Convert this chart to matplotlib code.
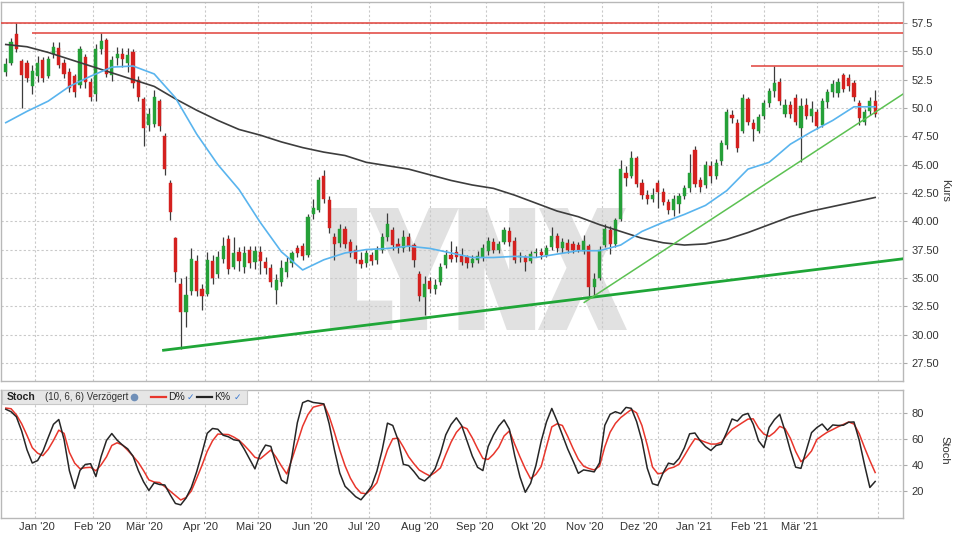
import numpy as np
import pandas as pd
import matplotlib
matplotlib.use('Agg')
import matplotlib.pyplot as plt
from matplotlib.textpath import TextPath
from matplotlib.patches import PathPatch, Rectangle
from matplotlib.font_manager import FontProperties
from matplotlib.transforms import Affine2D, blended_transform_factory

plt.rcParams['font.family'] = ['Liberation Sans', 'DejaVu Sans']

# ---------------- data ----------------
first_day = '2019-12-11'
last_day = '2021-04-30'
holidays = ['2019-12-24', '2019-12-25', '2019-12-26', '2019-12-31', '2020-01-01',
            '2020-04-10', '2020-04-13', '2020-05-01', '2020-12-24', '2020-12-25',
            '2020-12-31', '2021-01-01']
candle_step = 2      # one candle per two trading days
n_candles = 165

opens = [53.2, 54.0, 56.5, 54.1, 54.0, 51.9, 52.8, 54.2, 52.8, 54.8, 55.3, 54.0, 53.2, 52.8, 52.0,
         54.5, 52.3, 51.2, 55.2, 56.0, 52.9, 54.4, 54.8, 54.0, 54.9, 52.5, 50.8, 48.5, 48.6, 50.6,
         47.5, 43.4, 38.5, 34.5, 32.0, 33.8, 36.5, 34.0, 33.6, 36.5, 35.3, 36.7, 38.4, 36.0, 37.3,
         36.0, 37.5, 36.4, 37.3, 36.4, 35.9, 33.9, 34.6, 35.5, 36.3, 37.6, 37.8, 37.0, 40.6, 41.0,
         44.0, 41.9, 38.6, 38.1, 39.3, 38.2, 37.5, 36.6, 36.3, 37.0, 36.6, 37.5, 38.6, 39.2, 38.0,
         37.6, 38.6, 37.9, 35.3, 33.3, 34.7, 34.0, 34.6, 36.1, 37.0, 37.3, 36.9, 36.8, 36.3, 36.6,
         36.8, 37.4, 38.2, 37.5, 38.2, 39.1, 38.3, 36.8, 36.8, 36.5, 37.2, 37.3, 37.0, 37.7, 38.7,
         37.6, 38.1, 38.0, 37.9, 37.4, 37.8, 34.2, 35.0, 37.9, 39.2, 38.0, 40.2, 44.3, 44.0, 45.6,
         43.4, 42.3, 42.0, 43.4, 42.6, 41.7, 41.0, 41.5, 42.2, 42.9, 46.3, 43.6, 43.2, 44.9, 44.0,
         45.3, 46.7, 49.4, 48.7, 48.0, 50.8, 48.7, 48.0, 49.3, 50.4, 51.5, 52.3, 49.5, 50.3, 50.9,
         48.2, 50.3, 49.3, 49.6, 48.5, 50.5, 51.4, 51.3, 52.9, 52.6, 52.2, 50.4, 48.8, 49.7, 50.6]
highs = [54.4, 56.2, 57.5, 54.3, 54.2, 53.8, 54.6, 54.5, 54.6, 55.8, 55.8, 54.3, 53.5, 53.0, 55.5,
         54.8, 52.6, 55.6, 56.6, 56.2, 54.6, 55.4, 55.3, 55.3, 55.2, 52.8, 51.0, 50.0, 51.6, 50.8,
         47.8, 43.6, 38.6, 35.0, 35.2, 37.6, 37.0, 34.5, 37.3, 37.0, 37.4, 38.6, 38.8, 38.6, 37.7,
         37.8, 37.8, 37.8, 37.8, 36.8, 36.2, 35.3, 36.6, 36.8, 37.4, 37.9, 38.1, 40.6, 42.0, 43.9,
         44.5, 42.2, 39.0, 39.8, 39.6, 38.4, 37.9, 37.3, 37.5, 37.3, 37.8, 39.0, 40.7, 39.5, 38.5,
         39.2, 39.0, 38.1, 35.6, 35.2, 35.1, 34.9, 36.3, 37.5, 38.3, 37.8, 37.6, 37.0, 37.0, 37.4,
         38.0, 38.6, 38.5, 38.3, 39.5, 39.5, 38.6, 37.3, 37.0, 37.4, 37.6, 37.6, 37.9, 39.5, 39.0,
         38.5, 38.4, 38.3, 38.2, 38.8, 38.0, 35.4, 37.8, 39.8, 39.6, 40.3, 45.4, 44.9, 46.2, 45.8,
         43.7, 42.8, 42.9, 43.6, 42.9, 42.0, 42.3, 42.5, 43.2, 45.9, 46.6, 43.9, 45.3, 45.3, 45.5,
         47.2, 49.9, 49.8, 49.0, 51.2, 51.0, 49.0, 49.5, 50.7, 51.8, 53.7, 52.6, 50.8, 50.6, 51.2,
         50.9, 50.9, 50.6, 49.9, 50.9, 51.7, 52.5, 52.6, 53.1, 53.0, 52.5, 50.7, 49.9, 51.0, 51.6]
lows = [52.8, 53.8, 54.9, 50.0, 52.3, 51.2, 52.3, 52.3, 52.6, 54.4, 53.5, 52.6, 51.4, 51.0, 51.8,
        51.8, 50.6, 50.6, 54.8, 52.7, 52.4, 53.8, 53.6, 53.2, 51.8, 50.6, 46.6, 48.0, 48.3, 48.0,
        44.1, 40.1, 34.6, 28.7, 30.7, 33.5, 33.4, 32.2, 33.4, 34.5, 35.0, 36.3, 35.3, 35.8, 35.6,
        35.4, 35.9, 35.8, 35.3, 35.3, 34.2, 32.7, 34.3, 35.1, 36.0, 36.8, 36.6, 36.8, 40.2, 40.8,
        41.6, 39.0, 36.6, 37.7, 37.6, 36.8, 36.3, 35.9, 36.0, 36.1, 36.2, 37.2, 38.3, 37.5, 37.2,
        37.3, 37.4, 36.0, 33.0, 31.7, 33.7, 33.6, 34.4, 35.9, 36.4, 36.4, 36.1, 35.9, 36.0, 36.3,
        36.5, 37.0, 37.2, 37.2, 38.0, 37.8, 36.3, 36.4, 35.6, 36.3, 36.8, 36.7, 36.8, 37.5, 37.3,
        37.2, 37.2, 37.2, 37.3, 37.1, 33.4, 33.4, 34.8, 37.7, 37.1, 37.7, 40.0, 43.1, 43.8, 43.0,
        42.0, 41.5, 41.7, 41.2, 41.4, 40.6, 40.5, 40.7, 42.0, 42.6, 43.0, 42.6, 42.9, 43.4, 43.7,
        45.0, 46.4, 48.7, 46.1, 47.8, 48.5, 47.1, 47.8, 49.0, 50.1, 51.0, 50.3, 49.2, 49.1, 48.5,
        45.2, 49.0, 48.8, 48.1, 48.3, 50.0, 51.0, 51.0, 51.4, 51.5, 50.6, 48.5, 48.5, 49.4, 49.2]
closes = [53.9, 55.8, 55.2, 52.9, 52.6, 53.3, 54.0, 52.6, 54.3, 55.4, 53.8, 53.0, 51.8, 51.4, 55.2,
          52.3, 51.0, 55.2, 55.9, 53.0, 54.2, 54.8, 54.3, 54.7, 52.2, 51.0, 48.2, 49.5, 51.0, 48.4,
          44.6, 40.8, 35.5, 32.0, 33.5, 36.7, 33.8, 33.4, 36.6, 35.0, 36.8, 37.8, 35.8, 37.2, 36.5,
          37.2, 36.3, 37.4, 36.5, 35.9, 34.6, 34.8, 35.9, 36.4, 37.2, 37.2, 36.9, 40.4, 41.2, 43.6,
          42.0, 39.4, 38.0, 39.3, 38.0, 37.2, 36.7, 36.2, 37.2, 36.5, 37.5, 38.6, 39.8, 37.9, 37.7,
          38.6, 37.8, 36.6, 33.4, 34.5, 34.0, 34.4, 36.0, 37.0, 36.7, 36.8, 36.4, 36.3, 36.7, 36.9,
          37.6, 38.3, 37.5, 38.0, 39.2, 38.2, 36.6, 36.9, 36.4, 37.1, 37.3, 37.0, 37.6, 38.7, 37.6,
          38.2, 37.5, 37.5, 37.5, 38.3, 34.2, 34.9, 37.5, 39.3, 38.0, 40.1, 44.6, 43.8, 45.6, 43.3,
          42.3, 42.0, 42.3, 42.6, 41.7, 41.0, 42.0, 42.2, 42.9, 44.3, 43.3, 43.0, 45.0, 44.0, 45.1,
          46.9, 49.6, 49.1, 46.5, 50.9, 48.8, 48.1, 49.2, 50.4, 51.5, 52.2, 50.6, 50.3, 49.5, 48.8,
          50.2, 49.3, 49.9, 48.4, 50.6, 51.4, 52.1, 52.3, 51.7, 51.9, 51.0, 49.1, 49.6, 50.6, 49.5]

# stochastic (10, 6, 6), same dates as candles
stoch_k = [82.9, 81.0, 77.1, 66.1, 51.7, 41.5, 43.4, 50.5, 61.1, 71.3, 75.0, 59.5, 35.6, 21.9, 35.8,
           40.4, 41.0, 31.1, 46.7, 58.9, 64.2, 59.1, 55.4, 52.4, 46.8, 35.8, 27.0, 20.4, 26.3, 25.0,
           24.6, 17.2, 10.4, 9.3, 14.5, 22.7, 34.7, 49.0, 64.4, 68.1, 67.5, 62.9, 61.7, 59.4, 58.7,
           52.1, 44.5, 37.0, 48.5, 55.3, 54.3, 40.5, 28.4, 25.7, 47.3, 72.5, 87.9, 89.6, 88.1, 87.6,
           87.0, 71.8, 51.6, 33.8, 23.6, 19.7, 15.6, 13.2, 18.1, 23.7, 35.2, 51.4, 72.2, 70.4, 59.3,
           40.5, 39.5, 34.9, 29.6, 27.7, 31.4, 37.3, 48.8, 63.2, 71.2, 76.3, 70.3, 58.6, 46.9, 38.2,
           35.7, 54.2, 63.1, 70.0, 74.7, 67.5, 47.3, 30.8, 19.0, 25.9, 39.6, 58.3, 73.2, 83.5, 73.9,
           63.0, 52.3, 43.2, 33.6, 36.2, 35.5, 34.7, 41.6, 70.5, 79.0, 81.0, 79.5, 84.3, 83.6, 73.4,
           58.7, 37.6, 25.6, 24.3, 34.0, 41.4, 40.5, 45.0, 53.1, 64.0, 64.6, 58.6, 54.1, 51.2, 55.0,
           56.0, 65.1, 75.4, 73.8, 78.3, 79.7, 71.4, 58.6, 53.3, 68.9, 74.9, 79.0, 66.1, 51.3, 38.3,
           37.4, 51.2, 64.9, 68.8, 71.5, 66.7, 70.8, 70.4, 70.6, 72.9, 73.1, 58.9, 40.0, 22.7, 27.3]
stoch_d = [83.8, 83.3, 78.6, 71.7, 62.8, 53.3, 49.1, 47.2, 52.0, 58.9, 66.8, 64.3, 49.7, 41.4, 37.1,
           37.9, 38.2, 35.5, 40.2, 46.3, 55.0, 57.1, 55.4, 51.3, 46.8, 42.0, 35.6, 28.5, 26.9, 26.5,
           23.3, 19.9, 16.5, 13.1, 14.9, 20.0, 29.6, 39.6, 50.5, 58.6, 63.8, 63.6, 63.4, 61.5, 59.0,
           55.1, 50.7, 45.9, 44.7, 48.1, 51.5, 45.9, 39.2, 33.1, 44.7, 57.1, 69.8, 78.8, 84.5, 85.6,
           86.7, 77.5, 65.0, 51.4, 39.4, 29.9, 22.9, 18.4, 17.9, 21.4, 26.3, 39.2, 51.7, 60.2, 60.6,
           53.8, 46.3, 40.9, 36.1, 33.7, 31.6, 34.3, 37.8, 48.0, 57.6, 65.1, 69.6, 67.9, 60.9, 52.6,
           45.0, 44.3, 48.3, 53.7, 62.3, 66.2, 56.0, 46.2, 37.1, 29.4, 32.8, 38.9, 54.1, 69.3, 71.7,
           70.4, 62.0, 52.8, 44.4, 39.1, 37.3, 36.2, 39.0, 54.0, 65.2, 72.0, 76.5, 79.6, 82.7, 80.1,
           70.4, 55.4, 38.4, 33.2, 33.9, 37.2, 38.3, 40.6, 47.1, 54.0, 60.2, 59.1, 57.5, 56.1, 56.1,
           57.5, 63.0, 67.4, 70.1, 72.7, 75.3, 75.5, 68.5, 63.8, 62.0, 65.1, 69.7, 68.0, 60.6, 50.4,
           42.5, 45.9, 50.8, 59.6, 62.6, 65.3, 67.3, 69.4, 71.2, 73.1, 71.5, 64.0, 53.3, 43.4, 34.2]

# moving averages, every 4th candle date
ma_step = 4
ma_fast = [48.7, 49.7, 50.6, 51.9, 52.8, 53.6, 53.7, 53.0, 50.9, 47.7, 45.0, 42.8, 39.9, 37.3,
           35.7, 36.6, 37.2, 37.5, 37.6, 37.8, 37.6, 37.2, 36.8, 36.8, 36.9, 36.8, 37.1, 37.4,
           37.4, 37.9, 39.1, 39.9, 40.6, 41.4, 42.7, 44.6, 45.2, 46.8, 47.9, 48.9, 50.1, 50.1]
ma_slow = [55.6, 55.4, 54.9, 54.3, 53.7, 53.1, 52.5, 51.9, 50.8, 49.8, 48.9, 48.1, 47.6, 47.0,
           46.5, 46.1, 45.8, 45.2, 44.9, 44.6, 44.1, 43.6, 43.2, 42.9, 42.3, 41.6, 40.9, 40.4,
           39.7, 39.1, 38.5, 38.1, 37.9, 38.0, 38.4, 39.0, 39.7, 40.4, 40.9, 41.3, 41.7, 42.1]

# trend lines (start date, start price, end date, end price)
support_long = ('2020-03-10', 28.6, '2021-04-15', 36.7)
support_short = ('2020-10-22', 32.8, '2021-04-15', 51.3)
resist_levels = [57.5, 56.6, 53.7]
resist_starts = [None, '2019-12-30', '2021-01-25']

price_ticks = [57.5, 55.0, 52.5, 50.0, 47.5, 45.0, 42.5, 40.0, 37.5, 35.0, 32.5, 30.0, 27.5]
price_tick_labels = ['57.5', '55.0', '52.5', '50.0', '47.50', '45.00', '42.50', '40.00',
                     '37.50', '35.00', '32.50', '30.00', '27.50']
stoch_ticks = [20, 40, 60, 80]
month_labels = ["Jan '20", "Feb '20", "Mär '20", "Apr '20", "Mai '20", "Jun '20", "Jul '20",
                "Aug '20", "Sep '20", "Okt '20", "Nov '20", "Dez '20", "Jan '21", "Feb '21",
                "Mär '21"]
month_starts = pd.date_range('2020-01-01', '2021-03-01', freq='MS')

# ---------------- calendar ----------------
days = pd.bdate_range(first_day, last_day)
days = days[~days.isin(pd.to_datetime(holidays))]


def pos(d):
    return float(days.searchsorted(pd.Timestamp(d)))


candle_dates = days[0:n_candles * candle_step:candle_step]
xc = np.array([pos(d) for d in candle_dates])
ma_x = xc[::ma_step]

GREEN = '#25a038'
RED = '#d4211f'
GRID = '#c9c9c9'
SPINE = '#b8b8b8'

fig = plt.figure(figsize=(9.6, 5.4), dpi=100)
ax = fig.add_axes([1 / 960, 1 - 381 / 540, 902 / 960, 379 / 540])
ax2 = fig.add_axes([1 / 960, 1 - 518 / 540, 902 / 960, 128 / 540])

xl = (-1.8, 338.5)
grid_x = [pos(m) for m in pd.date_range('2020-01-01', '2021-04-01', freq='MS')]

for a in (ax, ax2):
    a.set_xlim(*xl)
    a.set_axisbelow(True)
    a.set_xticks(grid_x)
    a.tick_params(axis='x', length=0, labelbottom=False)
    a.grid(True, color=GRID, linestyle=(0, (2, 2)), linewidth=0.8)
    for s in a.spines.values():
        s.set_color(SPINE)
        s.set_linewidth(1.0)
    a.yaxis.tick_right()
    a.tick_params(axis='y', length=3, color='#aaaaaa', labelsize=8, labelcolor='#333333', pad=3)

# ---------------- main panel ----------------
ax.set_ylim(25.9, 59.35)
ax.set_yticks(price_ticks)
ax.set_yticklabels(price_tick_labels)

# watermark (heavy letters, stroked to thicken)
tp = TextPath((0, 0), 'LYNX', size=1, prop=FontProperties(family='DejaVu Sans', weight='bold'))
ext = tp.get_extents()
sw = 3.5  # half stroke in px
tw = Affine2D().translate(-ext.x0, -ext.y0).scale((295 - 2 * sw) / ext.width,
                                                  (122 - 2 * sw) / ext.height).translate(330 + sw, 540 - 330 + sw)
wm = PathPatch(tp, transform=tw, facecolor='#e1e1e1', edgecolor='#e1e1e1', lw=sw * 2 * 0.72,
               joinstyle='miter', zorder=0.3)
ax.add_patch(wm)

o, h, l, c = map(np.array, (opens, highs, lows, closes))
cols = np.where(c >= o, GREEN, RED)
ax.vlines(xc, l, h, color='#3c3c3c', lw=0.9, zorder=2)
ax.bar(xc, np.maximum(np.abs(c - o), 0.08), bottom=np.minimum(o, c), width=1.2,
       color=cols, edgecolor=cols, linewidth=0.3, zorder=3)

ax.plot(ma_x, ma_slow, color='#3d3d3d', lw=1.2, zorder=4)
ax.plot(ma_x, ma_fast, color='#59b4ee', lw=1.2, zorder=4)

for (d0, p0, d1, p1), col, lw in ((support_long, '#1fa637', 2.0), (support_short, '#5cc152', 1.1)):
    ax.plot([pos(d0), pos(d1)], [p0, p1], color=col, lw=lw, zorder=5, solid_capstyle='butt')

for lev, st in zip(resist_levels, resist_starts):
    x0 = xl[0] if st is None else pos(st)
    ax.hlines(lev, x0, xl[1], color='#e0413a', lw=1.1, zorder=5)

ax.text(1.0465, 0.504, 'Kurs', transform=ax.transAxes, rotation=270, ha='center', va='center',
        fontsize=8, color='#333333')

# ---------------- stochastic panel ----------------
ax2.set_ylim(-0.8, 97.7)
ax2.set_yticks(stoch_ticks)
ax2.plot(xc, stoch_d, color='#e8362c', lw=1.1, zorder=3)
ax2.plot(xc, stoch_k, color='#262626', lw=1.1, zorder=4)
ax2.text(1.0465, 0.53, 'Stoch', transform=ax2.transAxes, rotation=270, ha='center', va='center',
         fontsize=8, color='#333333')


def fx(px):
    return (px - 1) / 902


yb = 1 - 14 / 128
ax2.add_patch(Rectangle((fx(2), yb), fx(247) - fx(2), 1 - yb, transform=ax2.transAxes,
                        facecolor='#e6e6e6', edgecolor='#c8c8c8', lw=0.8, zorder=6))
ym = 1 - 7 / 128
ax2.text(fx(7), ym, 'Stoch', transform=ax2.transAxes, fontsize=7.5, fontweight='bold',
         va='center', ha='left', color='#222222', zorder=7)
ax2.text(fx(45), ym, '(10, 6, 6) Verzögert', transform=ax2.transAxes, fontsize=7,
         va='center', ha='left', color='#333333', zorder=7)
ax2.plot([fx(134)], [ym], marker='o', ms=4.5, color='#6f8fb8', transform=ax2.transAxes,
         zorder=7, clip_on=False)
ax2.plot([fx(151), fx(166)], [ym, ym], color='#e8362c', lw=1.6, transform=ax2.transAxes,
         zorder=7, clip_on=False)
ax2.text(fx(168), ym, 'D%', transform=ax2.transAxes, fontsize=7.5, va='center', ha='left',
         color='#222222', zorder=7)
ax2.text(fx(187), ym, '✓', transform=ax2.transAxes, fontsize=6.5, va='center', ha='left',
         color='#3a78d0', zorder=7, family='DejaVu Sans')
ax2.plot([fx(197), fx(212)], [ym, ym], color='#222222', lw=1.6, transform=ax2.transAxes,
         zorder=7, clip_on=False)
ax2.text(fx(214), ym, 'K%', transform=ax2.transAxes, fontsize=7.5, va='center', ha='left',
         color='#222222', zorder=7)
ax2.text(fx(234), ym, '✓', transform=ax2.transAxes, fontsize=6.5, va='center', ha='left',
         color='#3a78d0', zorder=7, family='DejaVu Sans')

# month labels (placed linearly in calendar time)
xa = pos('2020-01-02') + 0.75
xb = pos('2021-03-01') - 6.4
t0 = pd.Timestamp('2020-01-01')
span = (pd.Timestamp('2021-03-01') - t0).days
btrans = blended_transform_factory(ax2.transData, ax2.transAxes)
for m, lab in zip(month_starts, month_labels):
    xm = xa + (m - t0).days * (xb - xa) / span
    ax2.text(xm, -0.07, lab, transform=btrans, ha='center', va='center', fontsize=8,
             color='#333333', clip_on=False)

fig.savefig('out.png', dpi=100)
